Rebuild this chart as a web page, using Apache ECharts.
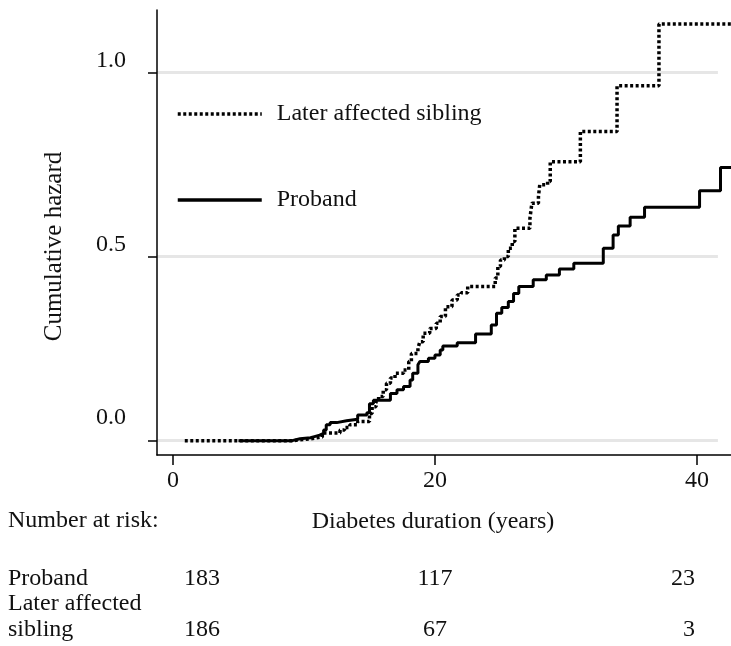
<!DOCTYPE html>
<html>
<head>
<meta charset="utf-8">
<script src="https://cdn.jsdelivr.net/npm/echarts@6/dist/echarts.min.js"></script>
<style>
  html, body { margin: 0; padding: 0; background: #fff; }
  #chart { width: 731px; height: 646px; }
</style>
</head>
<body>
<div id="chart"></div>
<script>
// ---- data ----
const probandTime = [5.0, 9.1, 9.7, 10.5, 10.8, 11.2, 11.5, 11.7, 12.0, 12.5, 13.25, 14.1, 14.8, 15.0, 15.3, 16.6, 17.1, 17.6, 18.1, 18.3, 18.7, 18.85, 19.5, 20.0, 20.4, 20.6, 21.7, 23.1, 24.3, 24.7, 25.1, 25.6, 26.0, 26.4, 27.5, 28.5, 29.5, 30.6, 32.85, 33.6, 34.0, 34.9, 36.0, 40.2, 41.8, 42.6];
const probandHazard = [0, 0.005, 0.008, 0.011, 0.015, 0.02, 0.029, 0.043, 0.049, 0.054, 0.058, 0.07, 0.076, 0.10, 0.11, 0.128, 0.138, 0.147, 0.165, 0.183, 0.206, 0.215, 0.224, 0.233, 0.246, 0.257, 0.266, 0.29, 0.314, 0.346, 0.362, 0.378, 0.40, 0.419, 0.437, 0.45, 0.466, 0.482, 0.523, 0.559, 0.583, 0.607, 0.634, 0.679, 0.742, 0.742];

const siblingTime = [0.9, 9.1, 10.5, 11.4, 12.75, 13.1, 13.5, 14.1, 15.0, 15.2, 15.5, 15.7, 16.05, 16.3, 16.6, 16.95, 17.6, 18.0, 18.2, 18.7, 18.85, 19.1, 19.6, 20.1, 20.4, 20.8, 21.3, 21.7, 22.0, 22.5, 24.6, 24.8, 25.0, 25.3, 25.6, 25.9, 26.1, 27.25, 27.4, 27.9, 28.0, 28.6, 28.8, 31.1, 33.9, 37.1, 42.6];
const siblingHazard = [0, 0.005, 0.01, 0.021, 0.029, 0.036, 0.043, 0.052, 0.074, 0.092, 0.106, 0.12, 0.138, 0.156, 0.17, 0.183, 0.192, 0.215, 0.237, 0.251, 0.269, 0.292, 0.305, 0.319, 0.337, 0.364, 0.382, 0.396, 0.402, 0.419, 0.442, 0.473, 0.491, 0.50, 0.523, 0.541, 0.577, 0.604, 0.645, 0.663, 0.695, 0.704, 0.758, 0.84, 0.964, 1.132, 1.132];

const xTicks = [0, 20, 40];
const yTicks = [0, 0.5, 1.0];
const seriesNames = ['Later affected sibling', 'Proband'];
const riskTitle = 'Number at risk:';
const riskRowLabels = ['Proband', 'Later affected\nsibling'];
const riskProband = [183, 117, 23];
const riskSibling = [186, 67, 3];

// ---- chart ----
const FONT = '"Liberation Serif", "Times New Roman", serif';
const TXT = '#111';
const DOT = [3, 2.5];
const LW = 3.5;
const chart = echarts.init(document.getElementById('chart'), null, { renderer: 'canvas' });

const zip = (xs, ys) => xs.map((x, i) => [x, ys[i]]);
const xMin = -1.22, xMax = 42.6;

const riskCols = [
  { x: 202, align: 'center' },
  { x: 435, align: 'center' },
  { x: 695, align: 'right' }
];
const txt = (text, x, y, align) => ({
  type: 'text', x: x, y: y, silent: true,
  style: { text: text, font: '24px ' + FONT, fill: TXT, textAlign: align || 'left', textVerticalAlign: 'middle', lineHeight: 26 }
});
const graphics = [txt(riskTitle, 8, 521), txt(riskRowLabels[0], 8, 579), txt(riskRowLabels[1], 8, 617)];
riskCols.forEach((c, i) => {
  graphics.push(txt(String(riskProband[i]), c.x, 579, c.align));
  graphics.push(txt(String(riskSibling[i]), c.x, 630, c.align));
});

const legendBase = {
  left: 171, orient: 'horizontal', itemWidth: 84, itemHeight: 14,
  textStyle: { fontFamily: FONT, fontSize: 24, color: TXT, padding: [0, 0, 0, 10] },
  itemStyle: { opacity: 0 },
  selectedMode: false
};

chart.setOption({
  animation: false,
  backgroundColor: '#fff',
  grid: { left: 157, right: 0, top: 10, bottom: 191, containLabel: false },
  legend: [
    Object.assign({}, legendBase, { data: [seriesNames[0]], top: 97,
      lineStyle: { color: '#000', width: LW, type: DOT, cap: 'butt' } }),
    Object.assign({}, legendBase, { data: [seriesNames[1]], top: 183,
      lineStyle: { color: '#000', width: LW, type: 'solid' } })
  ],
  xAxis: {
    type: 'value', min: xMin, max: xMax,
    name: 'Diabetes duration (years)', nameLocation: 'middle', nameGap: 55,
    nameTextStyle: { fontFamily: FONT, fontSize: 24, color: TXT, padding: [0, 22, 0, 0] },
    axisLine: { show: true, onZero: false, lineStyle: { color: '#000', width: 1.5 } },
    axisTick: { show: true, customValues: xTicks, length: 10, lineStyle: { color: '#000', width: 1.5 } },
    axisLabel: { customValues: xTicks, fontFamily: FONT, fontSize: 24, color: TXT, margin: 14 },
    splitLine: { show: false }
  },
  yAxis: {
    type: 'value', min: -0.039, max: 1.17,
    name: 'Cumulative hazard', nameLocation: 'middle', nameGap: 90, nameRotate: 90,
    nameTextStyle: { fontFamily: FONT, fontSize: 25, color: TXT, padding: [0, 28, 0, 0] },
    axisLine: { show: true, onZero: false, lineStyle: { color: '#000', width: 1.5 } },
    axisTick: { show: true, customValues: yTicks, length: 9, lineStyle: { color: '#000', width: 1.5 } },
    axisLabel: {
      customValues: yTicks, margin: 31, verticalAlign: 'bottom',
      fontFamily: FONT, fontSize: 24, color: TXT,
      formatter: v => v === 0 ? '{z|0.0}' : '{n|' + v.toFixed(1) + '}',
      rich: {
        n: { fontFamily: FONT, fontSize: 24, color: TXT, padding: [0, 0, 0, 0] },
        z: { fontFamily: FONT, fontSize: 24, color: TXT, padding: [0, 0, 11, 0] }
      }
    },
    splitLine: { show: false }
  },
  graphic: graphics,
  series: [
    {
      name: 'grid', type: 'line', data: [], silent: true, z: 0,
      markLine: {
        silent: true, symbol: ['none', 'none'], z: 0,
        label: { show: false },
        lineStyle: { color: '#e6e6e6', width: 3, type: 'solid' },
        data: yTicks.map(v => [{ coord: [xMin, v] }, { coord: [41.6, v] }])
      }
    },
    {
      name: seriesNames[0], type: 'line', step: 'end', symbol: 'none', z: 3,
      data: zip(siblingTime, siblingHazard),
      itemStyle: { color: '#000' },
      lineStyle: { color: '#000', width: LW, type: DOT, cap: 'butt' }
    },
    {
      name: seriesNames[1], type: 'line', step: 'end', symbol: 'none', z: 3,
      data: zip(probandTime, probandHazard),
      itemStyle: { color: '#000' },
      lineStyle: { color: '#000', width: 3, type: 'solid' }
    }
  ]
});
</script>
</body>
</html>
